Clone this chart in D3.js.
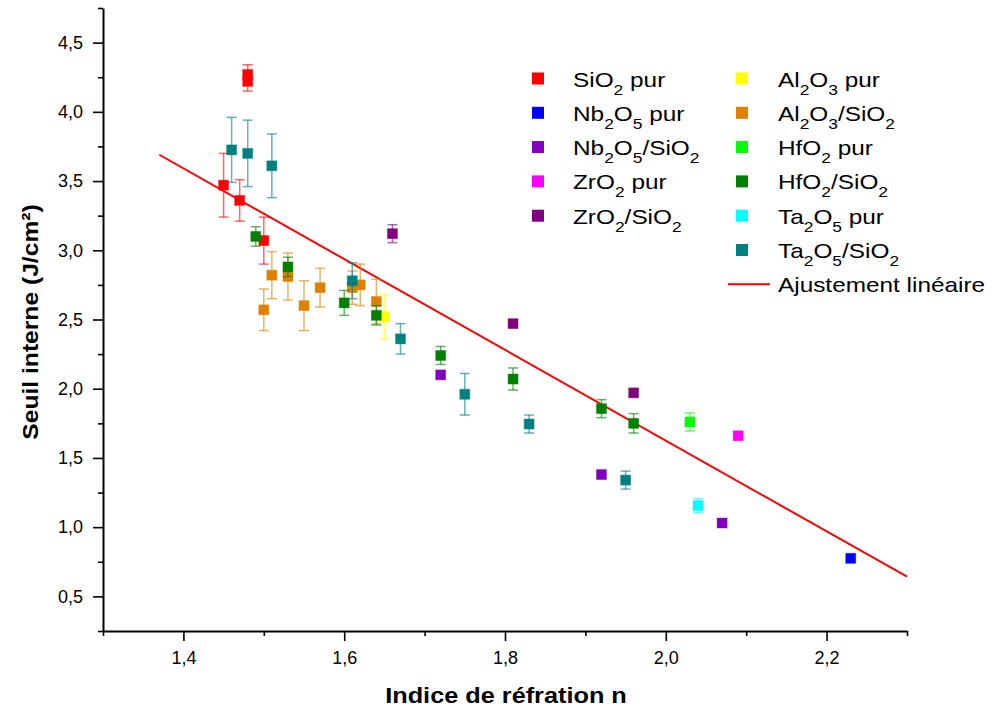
<!DOCTYPE html>
<html><head><meta charset="utf-8">
<script src="https://cdn.jsdelivr.net/npm/d3@7"></script>
<style>
html,body{margin:0;padding:0;background:#fff;}
svg{display:block;font-family:"Liberation Sans",Arial,sans-serif;}
</style></head>
<body>
<svg id="chart" width="992" height="715"></svg>
<script>
// ---- data ----
const seriesNames = ["SiO_2 pur","Nb_2O_5 pur","Nb_2O_5/SiO_2","ZrO_2 pur","ZrO_2/SiO_2",
                     "Al_2O_3 pur","Al_2O_3/SiO_2","HfO_2 pur","HfO_2/SiO_2","Ta_2O_5 pur","Ta_2O_5/SiO_2"];
const seriesColors = ["#ff0000","#0000ff","#7f00bf","#ff00ff","#800080",
                      "#ffff00","#e08000","#00ff00","#008000","#00ffff","#008080"];
// each point: [indice n, seuil, erreur]
const sio2Pur    = [[1.45,3.47,0.23],[1.47,3.36,0.15],[1.48,4.22,0.07],[1.48,4.27,0.07],[1.50,3.07,0.17]];
const nb2o5Pur   = [[2.23,0.775,0]];
const nb2o5SiO2  = [[1.72,2.10,0],[1.92,1.38,0],[2.07,1.03,0]];
const zro2Pur    = [[2.09,1.66,0]];
const zro2SiO2   = [[1.66,3.12,0.065],[1.81,2.47,0],[1.96,1.97,0]];
const al2o3Pur   = [[1.65,2.52,0.16]];
const al2o3SiO2  = [[1.50,2.57,0.15],[1.51,2.82,0.17],[1.53,2.81,0.17],[1.55,2.60,0.18],[1.57,2.73,0.14],[1.61,2.73,0.12],[1.62,2.75,0.15],[1.64,2.63,0.16]];
const hfo2Pur    = [[2.03,1.76,0.065]];
const hfo2SiO2   = [[1.49,3.10,0.07],[1.53,2.88,0.07],[1.60,2.62,0.09],[1.64,2.53,0.07],[1.72,2.24,0.065],[1.81,2.07,0.08],[1.92,1.856,0.065],[1.96,1.75,0.07]];
const ta2o5Pur   = [[2.04,1.155,0.05]];
const ta2o5SiO2  = [[1.46,3.725,0.235],[1.48,3.70,0.24],[1.51,3.61,0.23],[1.61,2.78,0.13],[1.67,2.36,0.11],[1.75,1.96,0.15],[1.83,1.745,0.065],[1.95,1.34,0.065]];
const seriesData = [sio2Pur,nb2o5Pur,nb2o5SiO2,zro2Pur,zro2SiO2,al2o3Pur,al2o3SiO2,hfo2Pur,hfo2SiO2,ta2o5Pur,ta2o5SiO2];
const fitLine = [[1.37,3.69],[2.30,0.642]];
const fitLabel = "Ajustement linéaire";
const xMajorTicks = [1.4,1.6,1.8,2.0,2.2];
const xMinorTicks = [1.3,1.5,1.7,1.9,2.1,2.3];
const yMajorTicks = [0.5,1.0,1.5,2.0,2.5,3.0,3.5,4.0,4.5];
const yMinorTicks = [0.25,0.75,1.25,1.75,2.25,2.75,3.25,3.75,4.25,4.75];
const xTitle = "Indice de réfration n";
const yTitle = "Seuil interne (J/cm²)";

// ---- chart ----
const svg = d3.select("#chart");
const x = d3.scaleLinear().domain([1.3,2.3]).range([103,907]);
const y = d3.scaleLinear().domain([0.25,4.75]).range([631,8]);
const fmt = d => d3.format(".1f")(d).replace(".",",");

// axes
svg.append("g").attr("transform","translate(0,631)")
  .call(d3.axisBottom(x).tickValues(xMajorTicks).tickSize(10).tickSizeOuter(0).tickPadding(10).tickFormat(fmt));
const gxm = svg.append("g").attr("transform","translate(0,631)")
  .call(d3.axisBottom(x).tickValues(xMinorTicks).tickSize(5).tickFormat(""));
gxm.select(".domain").remove();
svg.append("g").attr("transform","translate(103,0)")
  .call(d3.axisLeft(y).tickValues(yMajorTicks).tickSize(10).tickSizeOuter(0).tickPadding(10).tickFormat(fmt));
const gym = svg.append("g").attr("transform","translate(103,0)")
  .call(d3.axisLeft(y).tickValues(yMinorTicks).tickSize(5).tickFormat(""));
gym.select(".domain").remove();
svg.selectAll(".domain").attr("stroke","#000").attr("stroke-width",2);
svg.selectAll(".tick line").attr("stroke","#000").attr("stroke-width",1.6);
svg.selectAll(".tick text").attr("font-size",18).attr("fill","#000")
  .attr("font-family","'Liberation Sans',Arial,sans-serif");

// titles
const xt = svg.append("text").attr("text-anchor","middle")
  .attr("font-size",22).attr("font-weight","bold").text(xTitle)
  .attr("transform","translate(506,703) scale(1.15,1)");
const yt = svg.append("text").attr("text-anchor","middle")
  .attr("font-size",22).attr("font-weight","bold").text(yTitle)
  .attr("transform","translate(38,322) rotate(-90) scale(1.12,1)");

// fit line
svg.append("path").datum(fitLine)
  .attr("d", d3.line().x(d=>x(d[0])).y(d=>y(d[1])))
  .attr("stroke","#ff0000").attr("stroke-width",2).attr("fill","none");

// series
const msize = 10, cap = 5;
seriesData.forEach((pts,i) => {
  const col = seriesColors[i];
  const g = svg.append("g");
  const eb = g.selectAll("g.eb").data(pts.filter(d=>d[2]>0)).enter().append("g")
    .attr("stroke",col).attr("stroke-width",1.5).attr("stroke-opacity",0.6);
  eb.append("line").attr("x1",d=>x(d[0])).attr("x2",d=>x(d[0]))
    .attr("y1",d=>y(d[1]+d[2])).attr("y2",d=>y(d[1]-d[2]));
  eb.append("line").attr("x1",d=>x(d[0])-cap).attr("x2",d=>x(d[0])+cap)
    .attr("y1",d=>y(d[1]+d[2])).attr("y2",d=>y(d[1]+d[2]));
  eb.append("line").attr("x1",d=>x(d[0])-cap).attr("x2",d=>x(d[0])+cap)
    .attr("y1",d=>y(d[1]-d[2])).attr("y2",d=>y(d[1]-d[2]));
  g.selectAll("rect").data(pts).enter().append("rect")
    .attr("x",d=>x(d[0])-msize/2).attr("y",d=>y(d[1])-msize/2)
    .attr("width",msize).attr("height",msize)
    .attr("fill",col).attr("stroke",col).attr("stroke-opacity",0.4).attr("stroke-width",1);
});

// legend
function richText(sel, label){
  const parts = label.split(/_(\d)/);
  parts.forEach((p,k)=>{
    if(p==="") return;
    if(k%2===1){
      sel.append("tspan").attr("font-size",15).attr("dy",8).text(p);
      sel.append("tspan").attr("dy",-8).text("\u200b");
    } else {
      sel.append("tspan").text(p);
    }
  });
}
const rowY = i => 78.5 + i*34.3;
const legCols = [{mx:538, tx:573}, {mx:742, tx:778}];
const legScale = 1.16;
seriesNames.forEach((name,i)=>{
  const c = i<5 ? legCols[0] : legCols[1];
  const r = i<5 ? i : i-5;
  const cy = rowY(r);
  svg.append("rect").attr("x",c.mx-6).attr("y",cy-6).attr("width",12).attr("height",12)
    .attr("fill",seriesColors[i]);
  const t = svg.append("text").attr("transform",`translate(${c.tx},${cy+8}) scale(${legScale},1)`)
    .attr("font-size",21).attr("fill","#000");
  richText(t,name);
});
{
  const cy = rowY(6);
  svg.append("line").attr("x1",728).attr("x2",770).attr("y1",cy).attr("y2",cy)
    .attr("stroke","#ff0000").attr("stroke-width",2);
  svg.append("text").attr("transform",`translate(778,${cy+8}) scale(${legScale},1)`)
    .attr("font-size",21).attr("fill","#000").text(fitLabel);
}
</script>
</body></html>
